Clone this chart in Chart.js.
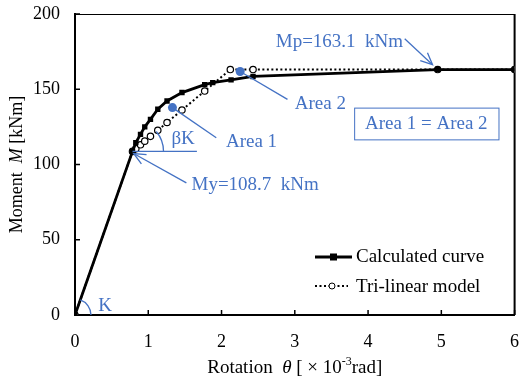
<!DOCTYPE html>
<html><head><meta charset="utf-8">
<script src="https://cdn.jsdelivr.net/npm/chart.js@4.4.0/dist/chart.umd.min.js"></script>
<style>html,body{margin:0;padding:0;background:#fff}#wrap{width:519px;height:381px}</style>
</head><body><div id="wrap"><canvas id="c" width="519" height="381"></canvas></div>
<script>
const calcTheta = [0, 0.785, 0.83, 0.894, 0.952, 1.03, 1.13, 1.256, 1.46, 1.77, 1.88, 2.13, 2.43, 4.95, 6.0];
const calcMoment = [0, 108.7, 114.5, 120, 125, 130, 136.7, 142.2, 147.8, 153.1, 154.4, 156.2, 158.5, 163.1, 163.1];
const triTheta = [0, 0.785, 0.83, 0.894, 0.952, 1.03, 1.13, 1.256, 1.46, 1.77, 2.12, 2.43, 4.95, 6.0];
const triMoment = [0, 108.7, 110.5, 113.1, 115.5, 118.7, 122.7, 127.9, 136.2, 148.8, 163.1, 163.1, 163.1, 163.1];
const xTicks = [0, 1, 2, 3, 4, 5, 6];
const yTicks = [0, 50, 100, 150, 200];
const seriesNames = ['Calculated curve', 'Tri-linear model'];
const myValue = 108.7, mpValue = 163.1;

const SERIF = '"Liberation Serif","Times New Roman",serif';
const BLUE = '#4472C4';

const toPts = (xs, ys) => xs.map((x, i) => ({x, y: ys[i]}));

function arrow(ctx, x1, y1, x2, y2) {
  ctx.beginPath(); ctx.moveTo(x1, y1); ctx.lineTo(x2, y2); ctx.stroke();
  const a = Math.atan2(y2 - y1, x2 - x1), L = 13, w = 0.42;
  ctx.beginPath();
  ctx.moveTo(x2 - L * Math.cos(a - w), y2 - L * Math.sin(a - w));
  ctx.lineTo(x2, y2);
  ctx.lineTo(x2 - L * Math.cos(a + w), y2 - L * Math.sin(a + w));
  ctx.stroke();
}

function richText(ctx, parts, cx, cy) {
  let total = 0;
  parts.forEach(p => { ctx.font = p.font; p.w = ctx.measureText(p.t).width; total += p.w; });
  let x = cx - total / 2;
  ctx.textAlign = 'left'; ctx.textBaseline = 'middle';
  parts.forEach(p => { ctx.font = p.font; ctx.fillText(p.t, x, cy + (p.dy || 0)); x += p.w; });
}

const deco = {
  id: 'deco',
  beforeDatasetsDraw(chart) {
    const {ctx, chartArea: a, scales: {x, y}} = chart;
    ctx.save();
    ctx.strokeStyle = '#000';
    ctx.lineWidth = 1;
    ctx.beginPath(); ctx.moveTo(a.left, a.top + 0.5); ctx.lineTo(a.right, a.top + 0.5); ctx.stroke();
    ctx.lineWidth = 2;
    ctx.beginPath(); ctx.moveTo(a.right, a.top); ctx.lineTo(a.right, a.bottom); ctx.stroke();
    ctx.lineWidth = 1.5;
    xTicks.forEach(v => {
      const px = x.getPixelForValue(v);
      ctx.beginPath(); ctx.moveTo(px, a.bottom); ctx.lineTo(px, a.bottom - 5); ctx.stroke();
    });
    yTicks.forEach(v => {
      const py = y.getPixelForValue(v);
      ctx.beginPath(); ctx.moveTo(a.left, py); ctx.lineTo(a.left + 5, py); ctx.stroke();
    });
    ctx.restore();
  },
  afterDatasetsDraw(chart) {
    const {ctx, chartArea: a, scales: {x, y}} = chart;
    const X = v => x.getPixelForValue(v), Y = v => y.getPixelForValue(v);
    ctx.save();
    ctx.strokeStyle = BLUE; ctx.fillStyle = BLUE; ctx.lineWidth = 1.3;
    ctx.font = '19px ' + SERIF; ctx.textBaseline = 'middle'; ctx.textAlign = 'left';

    const ox = X(calcTheta[0]), oy = Y(calcMoment[0]);
    const angK = Math.atan2(Y(calcMoment[1]) - oy, X(calcTheta[1]) - ox);
    ctx.beginPath(); ctx.arc(ox, oy, 16, angK, 0); ctx.stroke();
    ctx.fillText('K', X(0.317), Y(6));

    const mx = X(triTheta[1]), my = Y(triMoment[1]);
    ctx.beginPath(); ctx.moveTo(mx, my); ctx.lineTo(X(1.664), my); ctx.stroke();
    const angB = Math.atan2(Y(triMoment[10]) - my, X(triTheta[10]) - mx);
    ctx.beginPath(); ctx.arc(mx, my, 31, angB, 0); ctx.stroke();
    ctx.fillText('βK', X(1.316), Y(116.7));

    arrow(ctx, X(1.52), Y(87.8), X(0.80), Y(107.3));
    ctx.fillText('My=' + myValue.toFixed(1) + '  kNm', X(1.59), Y(86.7));

    arrow(ctx, X(4.50), Y(183.5), X(4.88), Y(166.3));
    ctx.fillText('Mp=' + mpValue.toFixed(1) + '  kNm', X(2.74), Y(181.5));

    ctx.beginPath(); ctx.moveTo(X(1.33), Y(137.8)); ctx.lineTo(X(1.928), Y(117.8)); ctx.stroke();
    ctx.beginPath(); ctx.arc(X(1.33), Y(137.8), 4.5, 0, Math.PI * 2); ctx.fill();
    ctx.fillText('Area 1', X(2.06), Y(114.9));

    ctx.beginPath(); ctx.moveTo(X(2.254), Y(161.8)); ctx.lineTo(X(2.90), Y(143.3)); ctx.stroke();
    ctx.beginPath(); ctx.arc(X(2.254), Y(161.8), 4.5, 0, Math.PI * 2); ctx.fill();
    ctx.fillText('Area 2', X(3.0), Y(140));

    const bx1 = X(3.81), bx2 = X(5.78), by1 = Y(137.8), by2 = Y(116.7);
    ctx.lineWidth = 1;
    ctx.strokeRect(bx1 + 0.5, by1 + 0.5, bx2 - bx1, by2 - by1);
    ctx.textAlign = 'center';
    ctx.fillText('Area 1 = Area 2', (bx1 + bx2) / 2, (by1 + by2) / 2 + 1);
    ctx.restore();

    ctx.save();
    ctx.strokeStyle = '#000'; ctx.fillStyle = '#000';
    ctx.lineWidth = 2.8;
    ctx.beginPath(); ctx.moveTo(315, 257); ctx.lineTo(352, 257); ctx.stroke();
    ctx.fillRect(330, 253.5, 7, 7);
    ctx.lineWidth = 2; ctx.setLineDash([2, 2.5]);
    ctx.beginPath(); ctx.moveTo(315, 286); ctx.lineTo(348, 286); ctx.stroke();
    ctx.setLineDash([]);
    ctx.fillStyle = '#fff'; ctx.lineWidth = 1;
    ctx.beginPath(); ctx.arc(332, 286, 3, 0, Math.PI * 2); ctx.fill(); ctx.stroke();
    ctx.fillStyle = '#000';
    ctx.font = '19px ' + SERIF; ctx.textAlign = 'left'; ctx.textBaseline = 'middle';
    ctx.fillText(seriesNames[0], 356, 257);
    ctx.fillText(seriesNames[1], 356, 287);
    ctx.restore();
  },
  afterDraw(chart) {
    const {ctx, chartArea: a} = chart;
    ctx.save();
    ctx.fillStyle = '#000';
    richText(ctx, [
      {t: 'Rotation  ', font: '19px ' + SERIF},
      {t: 'θ', font: 'italic 19px ' + SERIF},
      {t: ' [ × 10', font: '19px ' + SERIF},
      {t: '-3', font: '12px ' + SERIF, dy: -6},
      {t: 'rad]', font: '19px ' + SERIF}
    ], (a.left + a.right) / 2, 368);
    ctx.translate(17, (a.top + a.bottom) / 2);
    ctx.rotate(-Math.PI / 2);
    richText(ctx, [
      {t: 'Moment  ', font: '18px ' + SERIF},
      {t: 'M', font: 'italic 18px ' + SERIF},
      {t: ' [kNm]', font: '18px ' + SERIF}
    ], 0, 0);
    ctx.restore();
  }
};

new Chart(document.getElementById('c'), {
  type: 'scatter',
  data: {
    datasets: [
      {
        label: seriesNames[0], data: toPts(calcTheta, calcMoment), showLine: true,
        borderColor: '#000', backgroundColor: '#000', borderWidth: 2.8,
        pointStyle: 'rect', pointRadius: 3.8, pointBorderWidth: 0, pointHoverRadius: 3.8
      },
      {
        label: seriesNames[1], data: toPts(triTheta, triMoment), showLine: true,
        borderColor: '#000', backgroundColor: '#fff', borderWidth: 2, borderDash: [2, 2.5],
        pointStyle: 'circle', pointRadius: 3.2, pointBorderWidth: 1.2, pointHoverRadius: 3.2
      }
    ]
  },
  options: {
    responsive: false, animation: false, devicePixelRatio: 1,
    layout: {padding: {top: 14, right: 3, left: 0, bottom: 0}},
    plugins: {legend: {display: false}, tooltip: {enabled: false}},
    scales: {
      x: {
        type: 'linear', min: 0, max: 6,
        afterBuildTicks: s => { s.ticks = xTicks.map(v => ({value: v})); },
        afterFit: s => { s.height = 66; s.paddingLeft = 0; s.paddingRight = 0; },
        grid: {display: false, drawTicks: false},
        border: {display: true, color: '#000', width: 2},
        ticks: {color: '#000', font: {family: SERIF, size: 18}, padding: 16, maxRotation: 0}
      },
      y: {
        type: 'linear', min: 0, max: 200,
        afterBuildTicks: s => { s.ticks = yTicks.map(v => ({value: v})); },
        afterFit: s => { s.width = 75; s.paddingTop = 0; s.paddingBottom = 0; },
        grid: {display: false, drawTicks: false},
        border: {display: true, color: '#000', width: 2},
        ticks: {color: '#000', font: {family: SERIF, size: 18}, padding: 15}
      }
    }
  },
  plugins: [deco]
});
</script>
</body></html>
